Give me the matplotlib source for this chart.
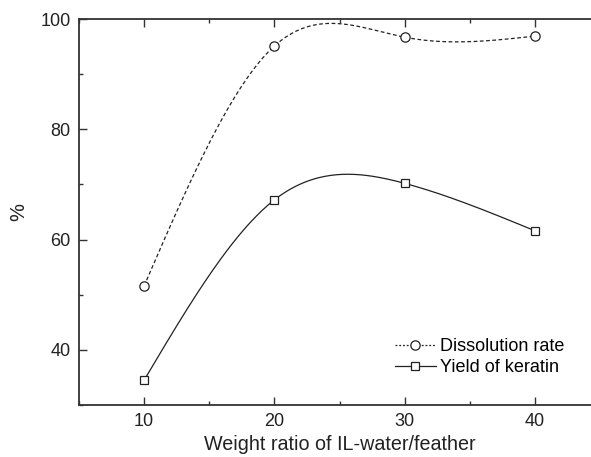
import numpy as np
import matplotlib
matplotlib.use("Agg")
import matplotlib.pyplot as plt
from matplotlib.ticker import MultipleLocator

ratio = [10, 20, 30, 40]
dissolution = [51.6, 95.1, 96.7, 96.9]
yield_keratin = [34.5, 67.2, 70.2, 61.6]


def natural_spline(x, y, n=200):
    x = np.asarray(x, float)
    y = np.asarray(y, float)
    k = len(x)
    h = np.diff(x)
    A = np.zeros((k, k))
    b = np.zeros(k)
    A[0, 0] = 1
    A[-1, -1] = 1
    for i in range(1, k - 1):
        A[i, i - 1] = h[i - 1]
        A[i, i] = 2 * (h[i - 1] + h[i])
        A[i, i + 1] = h[i]
        b[i] = 6 * ((y[i + 1] - y[i]) / h[i] - (y[i] - y[i - 1]) / h[i - 1])
    M = np.linalg.solve(A, b)
    xs = np.linspace(x[0], x[-1], n)
    ys = np.empty_like(xs)
    for j, xv in enumerate(xs):
        i = min(np.searchsorted(x, xv, side="right") - 1, k - 2)
        t1 = x[i + 1] - xv
        t0 = xv - x[i]
        ys[j] = (M[i] * t1**3 / (6 * h[i]) + M[i + 1] * t0**3 / (6 * h[i])
                 + (y[i] / h[i] - M[i] * h[i] / 6) * t1
                 + (y[i + 1] / h[i] - M[i + 1] * h[i] / 6) * t0)
    return xs, ys


plt.rcParams['font.family'] = ['Liberation Sans', 'DejaVu Sans']
fig = plt.figure(figsize=(5.91, 4.57), dpi=100)
ax = fig.add_axes([79 / 591, 52 / 457, 521 / 591, 386 / 457])

lc = '#222222'
xs, ys = natural_spline(ratio, dissolution)
ax.plot(xs, ys, color=lc, lw=0.9, dashes=(3, 2))
ax.plot(ratio, dissolution, 'o', ms=6.7, mfc='white', mec=lc, mew=0.9)
xs, ys = natural_spline(ratio, yield_keratin)
ax.plot(xs, ys, color=lc, lw=0.9)
ax.plot(ratio, yield_keratin, 's', ms=6, mfc='white', mec=lc, mew=0.9)

# legend handles
h1, = ax.plot([], [], color=lc, lw=0.9, dashes=(1.5, 1.5), marker='o', ms=6.7,
              mfc='white', mec=lc, mew=0.9)
h2, = ax.plot([], [], color=lc, lw=0.9, marker='s', ms=6, mfc='white', mec=lc, mew=0.9)
ax.legend([h1, h2], ['Dissolution rate', 'Yield of keratin'], frameon=False,
          loc='upper left', bbox_to_anchor=(386 / 591, 1 - 329 / 457),
          bbox_transform=fig.transFigure, fontsize=13, handlelength=2.25,
          handletextpad=0.25, labelspacing=0.22, borderpad=0)

ax.set_xlim(5, 45)
ax.set_ylim(30, 100)
ax.xaxis.set_major_locator(MultipleLocator(10))
ax.xaxis.set_minor_locator(MultipleLocator(5))
ax.yaxis.set_major_locator(MultipleLocator(20))
ax.yaxis.set_minor_locator(MultipleLocator(10))
ax.tick_params(which='both', direction='in', top=True, right=False, colors='#333333',
               labelcolor='#222222', labelsize=13, width=1.0)
ax.tick_params(which='major', length=6, pad=6)
ax.tick_params(which='minor', length=3)
for s in ['left', 'bottom', 'top']:
    ax.spines[s].set_color('#333333')
    ax.spines[s].set_linewidth(1.3)
ax.spines['right'].set_visible(False)

ax.set_xlabel('Weight ratio of IL-water/feather', fontsize=14.2, color='#222222', labelpad=3)
ax.set_ylabel('%', fontsize=14.5, color='#222222', labelpad=9)

fig.savefig('out.png', dpi=100)
